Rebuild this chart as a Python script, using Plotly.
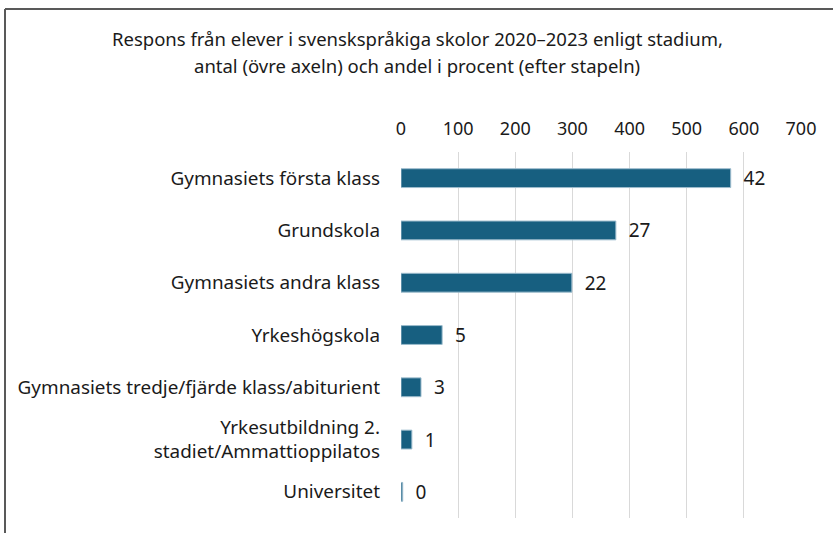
import plotly.graph_objects as go

# Responses per school level (count) and share in percent
stadium = [
    "Gymnasiets första klass",
    "Grundskola",
    "Gymnasiets andra klass",
    "Yrkeshögskola",
    "Gymnasiets tredje/fjärde klass/abiturient",
    "Yrkesutbildning 2.<br>stadiet/Ammattioppilatos",
    "Universitet",
]
antal = [577, 376, 299, 72, 35, 19, 3]
procent = [42, 27, 22, 5, 3, 1, 0]
x_ticks = [0, 100, 200, 300, 400, 500, 600, 700]
title_lines = [
    "Respons från elever i svenskspråkiga skolor 2020–2023 enligt stadium,",
    "antal (övre axeln) och andel i procent (efter stapeln)",
]

W, H = 833, 533
L, R, T, B = 401, 32, 152, 15
pw, ph = W - L - R, H - T - B
FONT = "Noto Sans"
INK = "#1a1a1a"

fig = go.Figure(
    go.Bar(
        x=antal,
        y=stadium,
        orientation="h",
        text=[str(p) for p in procent],
        texttemplate="  %{text}",
        textposition="outside",
        constraintext="none",
        cliponaxis=False,
        textfont=dict(family=FONT, size=19, color=INK),
        marker=dict(color="#175f80", line=dict(color="#9dbccd", width=1)),
        width=0.36,
    )
)

# helpers converting pixel positions to paper coordinates
px = lambda v: (v - L) / pw
py = lambda v: (H - B - v) / ph

# frame line along the top and left edge
fig.add_shape(type="line", xref="paper", yref="paper",
              x0=px(5), x1=px(840), y0=py(9), y1=py(9),
              line=dict(color="#595959", width=2))
fig.add_shape(type="line", xref="paper", yref="paper",
              x0=px(5), x1=px(5), y0=py(9), y1=py(540),
              line=dict(color="#595959", width=2))

# two-line heading
for line, yc in zip(title_lines, [38, 66]):
    fig.add_annotation(
        text=line, xref="paper", yref="paper",
        x=px(417), y=py(yc), xanchor="center", yanchor="middle",
        showarrow=False, font=dict(family=FONT, size=18.5, color=INK),
    )

fig.update_layout(
    width=W, height=H,
    margin=dict(l=L, r=R, t=T, b=B),
    paper_bgcolor="white", plot_bgcolor="white",
    showlegend=False,
    font=dict(family=FONT, size=19, color=INK),
    xaxis=dict(
        side="top", range=[0, 700], tickvals=x_ticks,
        showgrid=True, gridcolor="#d9d9d9", gridwidth=1,
        zeroline=False, showline=False, ticks="",
        ticklabelstandoff=12,
        tickfont=dict(family=FONT, size=18, color=INK),
    ),
    yaxis=dict(
        autorange="reversed", showgrid=False, showline=False,
        ticks="", ticklabelstandoff=20,
        tickfont=dict(family=FONT, size=18.9, color=INK),
    ),
)

fig.write_html("out.html")
